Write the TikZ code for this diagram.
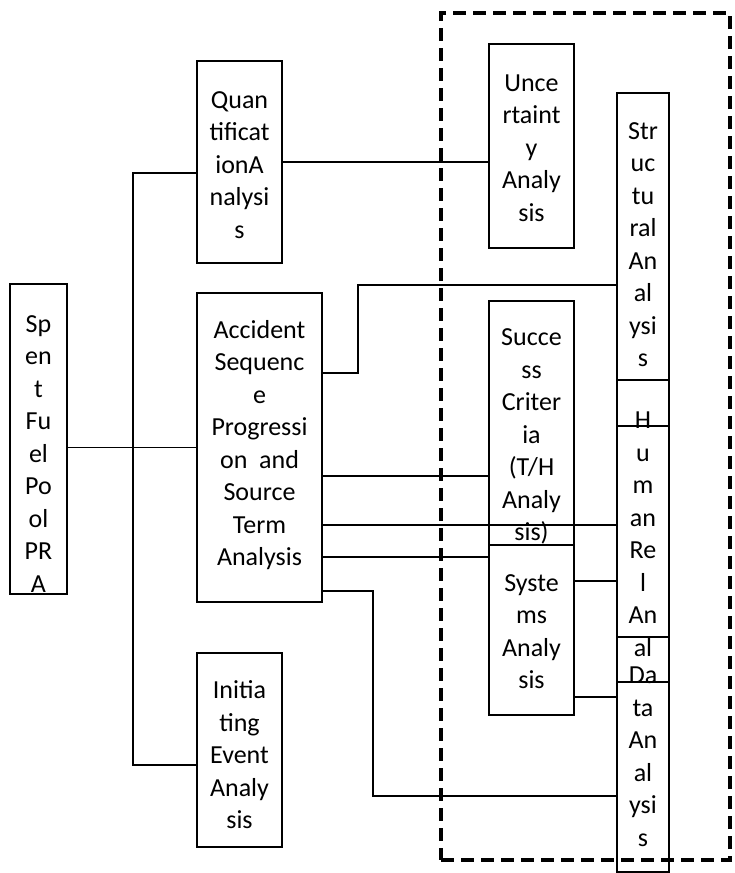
\documentclass[tikz,border=0pt]{standalone}
\usepackage{fontspec}
\setmainfont{Carlito}
\usetikzlibrary{positioning}

\begin{document}
\begin{tikzpicture}[
  x=1pt, y=-1pt,
  box/.style  ={draw, line width=1.3pt, inner sep=0pt},
  txt/.style  ={align=center, inner sep=0pt, font=\fontsize{26}{32.5}\selectfont},
  link/.style ={line width=1.3pt},
  frame/.style={draw, line width=4.5pt, dash pattern=on 13pt off 7pt, inner sep=0pt}
]
\useasboundingbox (0,0) rectangle (735,873);

% ---- dashed group on the right ----
\node[frame, minimum width=289pt, minimum height=847pt] (grp) at (585.5,436.5) {};

% ---- boxes ----
\node[box, minimum width=57pt, minimum height=310pt] (spent) at (38.5,439) {};
\node[box, minimum width=85pt, minimum height=202pt] (quant) at (239.5,162) {};
\node[box, minimum width=125pt, minimum height=309pt] (acc) at (259.5,447.5) {};
\node[box, minimum width=85pt, minimum height=194pt] (init) at (239.5,750) {};
\node[box, minimum width=85pt, minimum height=204pt] (unc) at (531.5,146) {};
\node[box, minimum width=85pt, minimum height=244pt] (succ) at (531.5,423) {};
\node[box, minimum width=85pt, minimum height=170pt] (sys) at (531.5,630) {};
\node[box, minimum width=52pt, minimum height=333pt] (str) at (643,259.5) {};
\node[box, minimum width=52pt, minimum height=302pt] (hum) at (643,531) {};
\node[box, minimum width=52pt, minimum height=235pt] (dat) at (643,754.5) {};

% ---- texts ----
\node[txt] (spent-t) at (38.5,454) {Sp\\en\\t\\Fu\\el\\Po\\ol\\PR\\A};
\node[txt] (quant-t) at (239.5,165) {Quan\\tificat\\ionA\\nalysi\\s};
\node[txt] (acc-t) at (259.5,445) {Accident\\Sequenc\\e\\Progressi\\on\ \ and\\Source\\Term\\Analysis};
\node[txt] (init-t) at (239.5,755) {Initia\\ting\\Event\\Analy\\sis};
\node[txt] (unc-t) at (531.5,148) {Unce\\rtaint\\y\\Analy\\sis};
\node[txt] (succ-t) at (531.5,436.5) {Succe\\ss\\Criter\\ia\\(T/H\\Analy\\sis)};
\node[txt] (sys-t) at (531.5,631.5) {Syste\\ms\\Analy\\sis};
\node[txt] (str-t) at (643,244.5) {Str\\uc\\tu\\ral\\An\\al\\ysi\\s};
\node[txt] (hum-t) at (643,534) {H\\u\\m\\an\\Re\\l\\An\\al};
\node[txt] (dat-t) at (643,756.5) {Da\\ta\\An\\al\\ysi\\s};

% ---- left tree ----
\coordinate (tq) at (133,173);
\coordinate (ti) at (133,765);
\draw[link] (spent.east |- acc.west) -- (acc.west);
\draw[link] (tq -| quant.west) -- (tq) -- (ti) -- (ti -| init.west);
\draw[link] (quant.east) -- (quant.east -| unc.west);

% ---- accident sequence to the group ----
\coordinate (k1) at (358,373);
\coordinate (k2) at (358,285);
\coordinate (k3) at (0,476);
\coordinate (k4) at (0,525);
\coordinate (k5) at (0,557);
\coordinate (k6) at (373,591);
\coordinate (k7) at (373,796);
\draw[link] (k1 -| acc.east) -- (k1) -- (k2) -- (k2 -| str.west);
\draw[link] (k3 -| acc.east) -- (k3 -| succ.west);
\draw[link] (k4 -| acc.east) -- (k4 -| hum.west);
\draw[link] (k5 -| acc.east) -- (k5 -| sys.west);
\draw[link] (k6 -| acc.east) -- (k6) -- (k7) -- (k7 -| dat.west);

% ---- systems to human / data ----
\coordinate (s1) at (0,581);
\coordinate (s2) at (0,697);
\draw[link] (s1 -| sys.east) -- (s1 -| hum.west);
\draw[link] (s2 -| sys.east) -- (s2 -| dat.west);

\end{tikzpicture}
\end{document}
